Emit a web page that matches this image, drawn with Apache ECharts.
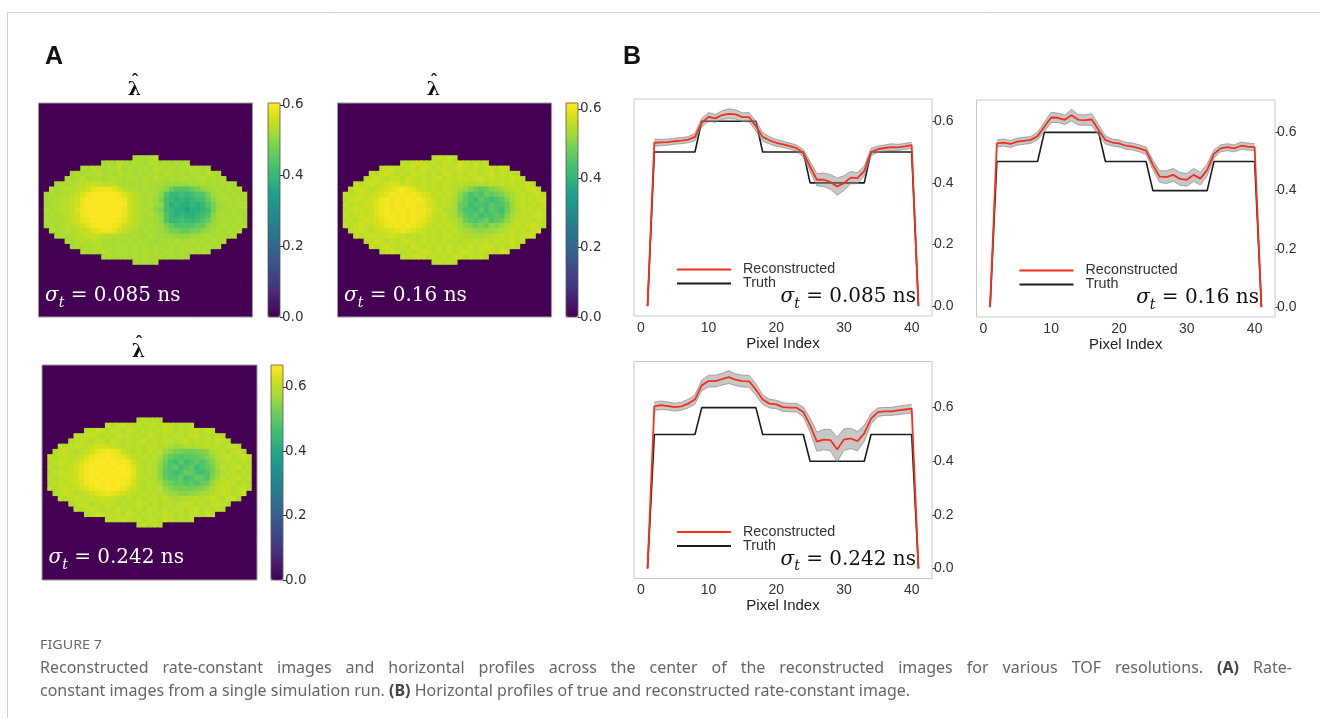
<!DOCTYPE html>
<html>
<head>
<meta charset="utf-8">
<script src="https://cdn.jsdelivr.net/npm/echarts@6/dist/echarts.min.js"></script>
<style>
  html, body { margin: 0; padding: 0; background: #ffffff; }
  #fig { width: 1320px; height: 718px; }
</style>
</head>
<body>
<div id="fig"></div>
<script>
// ---------- rate-constant images (A) ----------
// Each image is 41 x 41 pixels; the phantom occupies rows 10..30.
// A row string lists the pixels inside the phantom, centred on column 20;
// every other pixel is 0. Letters are value levels.
const LEVEL_KEYS = 'abcdefghijklmnopqrstuvwxy';
const LEVEL_VALUES = [0.36, 0.38, 0.40, 0.42, 0.44, 0.46, 0.48, 0.50,
  0.51, 0.52, 0.53, 0.54, 0.55, 0.56, 0.57, 0.58, 0.59, 0.60, 0.61,
  0.62, 0.63, 0.64, 0.65, 0.66, 0.667];
const IMG_SIZE = 41;
const FIRST_ROW = 10;

const IMG_085 = [
  'jkjkl',
  'jkjlkjkkjlkjkjkjk',
  'kjlkjkkljkjkkjlkjkjkklkjk',
  'jkjkkljkjlkkjkjkkjlkjkjkkjlkj',
  'kjkljkkjklkjkkjkjlkjkjkkjkljkjk',
  'jkjkl' + 'lmmml' + 'llkkj' + 'kjkkj' + 'jiiii' + 'ijjkj' + 'kjkkj',
  'kjklk' + 'lmnpq' + 'qqpnl' + 'kkjkj' + 'jihfe' + 'eefgh' + 'ijkjk' + 'jk',
  'jkjkk' + 'lmoqr' + 'rrrrq' + 'omlkj' + 'kjhec' + 'cdcde' + 'egijk' + 'jkjk',
  'kjkll' + 'mnqrr' + 'rrrrr' + 'qnlkj' + 'jigdc' + 'bcbcd' + 'dfhjk' + 'kjkj',
  'jkkll' + 'mnqrr' + 'rrrrr' + 'rnlkj' + 'kihdb' + 'cbbcb' + 'cegij' + 'kjkk',
  'kjkll' + 'mpqrr' + 'rrrrr' + 'qnlkk' + 'jhgdc' + 'bbabb' + 'cdgij' + 'jkjk',
  'jkjkl' + 'mnqrr' + 'rrrrr' + 'qnlkj' + 'kihec' + 'bcbbc' + 'dehjk' + 'jkkj',
  'kjkkl' + 'mnpqr' + 'rrrrq' + 'pmlkj' + 'jihec' + 'cdccd' + 'efhjk' + 'kjkj',
  'jkjkl' + 'lmnpq' + 'rrrqp' + 'nmlkj' + 'kjigf' + 'eeeef' + 'fhijk' + 'jkjk',
  'kjklk' + 'lmmop' + 'qqpnm' + 'lkjkj' + 'jihgg' + 'ffggh' + 'ijkjk' + 'jk',
  'jkjkl' + 'lmmml' + 'lkkkj' + 'kjjkj' + 'jiihh' + 'hiijk' + 'jkkjk',
  'kjklk' + 'llkkj' + 'kjkjk' + 'jjijj' + 'jkjkk' + 'jkjkj' + 'k',
  'jkjkk' + 'ljkjk' + 'kjkjk' + 'jkjjk' + 'jkkjk' + 'jkjk',
  'kjkjl' + 'kjkkj' + 'kjkjk' + 'jkkjk' + 'jkjkj',
  'jkjkkjkjkjkkjkjkj',
  'kjkjk'
];

const IMG_16 = [
  'mnmnm',
  'nmnonmnmnnmonmnmn',
  'mnonm' + 'nnmon' + 'mnnmn' + 'onmnm' + 'nnmon',
  'nmnon' + 'mnmon' + 'nmnmo' + 'nmnmn' + 'nmnom' + 'nmnm',
  'mnonm' + 'nnmon' + 'mnmno' + 'mnmnn' + 'mnomn' + 'mnmon' + 'm',
  'nmnon' + 'nopon' + 'onmnm' + 'nmnnm' + 'mlllm' + 'lmmnm' + 'nmnom',
  'mnonm' + 'nopqr' + 'srqon' + 'mnmnm' + 'mkjhg' + 'fghij' + 'lmnmn' + 'om',
  'nmnon' + 'nopqs' + 'rsrsr' + 'pomnm' + 'nlige' + 'fegfg' + 'hjlmn' + 'mnom',
  'mnonn' + 'oprsr' + 'srsrs' + 'rpnmn' + 'mkhfe' + 'dfede' + 'fhkmn' + 'nmno',
  'nmnno' + 'oqrsr' + 'srssr' + 'rpomn' + 'mkgfd' + 'eedfe' + 'egjmn' + 'mnmn',
  'mnonn' + 'oqrsr' + 'ssrsr' + 'rqonm' + 'lkgee' + 'dfdfe' + 'dgjln' + 'nmnm',
  'nmnon' + 'oprss' + 'rsrsr' + 'rpnmn' + 'mkhfe' + 'fdeef' + 'ehkmn' + 'mnon',
  'mnmno' + 'opqrs' + 'rsrsr' + 'qonmn' + 'mljgf' + 'efgef' + 'gilmn' + 'nmnm',
  'nmnon' + 'noprr' + 'srsrq' + 'pnmnm' + 'nmkih' + 'ghgih' + 'jlmnm' + 'nonm',
  'mnonm' + 'noopq' + 'rqpon' + 'mnmnm' + 'nlkjj' + 'ijjkl' + 'mnmnm' + 'no',
  'nmnon' + 'noonn' + 'mnmnm' + 'nmnnm' + 'mllkl' + 'lmmnm' + 'nmnon',
  'mnonm' + 'nmnon' + 'mnmnm' + 'nmmlm' + 'mnmnm' + 'nmnom' + 'n',
  'nmnon' + 'mnmon' + 'mnmnm' + 'nmnmn' + 'mnonm' + 'nmnm',
  'mnonm' + 'nmnon' + 'mnmnm' + 'nonmn' + 'mnmon',
  'nmnonmnmnmonmnmnm',
  'mnmnm'
];

const IMG_242 = [
  'qrqrq',
  'rqrsrqrqrrqsrqrqr',
  'qrsrq' + 'rrqsr' + 'qrrqr' + 'srqrq' + 'rrqsr',
  'rqrsr' + 'qrqsr' + 'rqrqs' + 'rqrqr' + 'rqrsq' + 'rqrq',
  'qrsrq' + 'rrqsr' + 'qrqrs' + 'qrqrr' + 'qrsqr' + 'qrqsr' + 'q',
  'rqrsr' + 'rstts' + 'srqrq' + 'rqrrq' + 'qpooq' + 'pqqrq' + 'rqrsq',
  'qrsrq' + 'rstvw' + 'xwvsr' + 'qrqrq' + 'rnmkk' + 'jjklm' + 'pqrqr' + 'sq',
  'rqrsr' + 'rsuwx' + 'xyxwv' + 'trqrq' + 'rplih' + 'ghhij' + 'lnqrs' + 'qrsr',
  'qrsrr' + 'suwxy' + 'yxyxx' + 'wtrqr' + 'qnjgf' + 'hfghg' + 'iloqr' + 'rqrq',
  'rqrrs' + 'tvxyx' + 'yyxyy' + 'xurqr' + 'pmigh' + 'fghfg' + 'hkorq' + 'rsqr',
  'qrsrs' + 'tvxyy' + 'xyyxy' + 'xvrqr' + 'qmhgf' + 'gihgf' + 'gknqr' + 'rqrq',
  'rqrss' + 'tvxyx' + 'yxyyx' + 'xurrq' + 'qnigg' + 'hfgih' + 'glorq' + 'rsqr',
  'qrsrs' + 'tuwxy' + 'xyxyx' + 'wtrqr' + 'qoljh' + 'ighgi' + 'jnqrs' + 'rqrq',
  'rqrsr' + 'stuwx' + 'xyxxw' + 'usrqr' + 'qrnlk' + 'jkjkl' + 'nprsr' + 'qrsq',
  'qrsrq' + 'rstuv' + 'wvuts' + 'rqrqr' + 'qpnnm' + 'mnnop' + 'qrsrq' + 'rs',
  'rqrsr' + 'rssts' + 'srqrq' + 'rqrrq' + 'rqppq' + 'qrqrs' + 'rqrsq',
  'qrsrq' + 'rrsrq' + 'rqrsr' + 'qrqqr' + 'qrsrq' + 'rqrsr' + 'q',
  'rqrsr' + 'qrqsr' + 'rqrqs' + 'rqrqr' + 'rqrsq' + 'rqrq',
  'qrsrq' + 'rrqsr' + 'qrrqr' + 'srqrq' + 'rrqsr',
  'rqrsrqrqrrqsrqrqr',
  'qrqrq'
];

const IMAGE_ROWS = [IMG_085, IMG_16, IMG_242];
const IMAGE_LABELS = ['0.085', '0.16', '0.242'];
const COLORBAR_MAX = [0.605, 0.617, 0.668];
const COLORBAR_TICKS = [0, 0.2, 0.4, 0.6];

// ---------- horizontal profiles (B) ----------
const PIXEL_INDEX = [1, 2, 3, 4, 5, 6, 7, 8, 9, 10, 11, 12, 13, 14, 15, 16, 17, 18, 19, 20,
  21, 22, 23, 24, 25, 26, 27, 28, 29, 30, 31, 32, 33, 34, 35, 36, 37, 38, 39, 40, 41];
const PROFILE_TICKS_X = [0, 10, 20, 30, 40];
const PROFILE_TICKS_Y = [0, 0.2, 0.4, 0.6];

const TRUTH = [0,
  0.5, 0.5, 0.5, 0.5, 0.5, 0.5, 0.5,
  0.6, 0.6, 0.6, 0.6, 0.6, 0.6, 0.6, 0.6, 0.6,
  0.5, 0.5, 0.5, 0.5, 0.5, 0.5, 0.5,
  0.4, 0.4, 0.4, 0.4, 0.4, 0.4, 0.4, 0.4, 0.4,
  0.5, 0.5, 0.5, 0.5, 0.5, 0.5, 0.5,
  0];

const RECON_085 = [0,
  0.530, 0.531, 0.532, 0.535, 0.537, 0.540, 0.549,
  0.595, 0.614, 0.609, 0.620, 0.624, 0.622, 0.613, 0.613, 0.584,
  0.549, 0.538, 0.530, 0.525, 0.519, 0.513, 0.496,
  0.453, 0.410, 0.410, 0.403, 0.388, 0.399, 0.417, 0.415, 0.439,
  0.500, 0.509, 0.513, 0.516, 0.515, 0.518, 0.522,
  0];
const RECON_16 = [0,
  0.562, 0.565, 0.560, 0.568, 0.571, 0.574, 0.587,
  0.619, 0.651, 0.650, 0.643, 0.659, 0.643, 0.642, 0.644, 0.608,
  0.574, 0.565, 0.562, 0.554, 0.551, 0.545, 0.537,
  0.488, 0.448, 0.446, 0.454, 0.440, 0.437, 0.454, 0.441, 0.471,
  0.526, 0.545, 0.549, 0.545, 0.554, 0.551, 0.549,
  0];
const RECON_242 = [0,
  0.605, 0.609, 0.606, 0.602, 0.605, 0.615, 0.630,
  0.683, 0.699, 0.699, 0.706, 0.714, 0.704, 0.699, 0.698, 0.667,
  0.630, 0.615, 0.612, 0.602, 0.600, 0.600, 0.584,
  0.535, 0.473, 0.481, 0.479, 0.444, 0.481, 0.485, 0.475, 0.504,
  0.559, 0.583, 0.586, 0.586, 0.590, 0.593, 0.596,
  0];

// half-width of the grey spread band, pixel index 2..40
const SPREAD_085 = [0.012, 0.010, 0.010, 0.010, 0.010, 0.010, 0.012,
  0.014, 0.014, 0.013, 0.014, 0.016, 0.015, 0.014, 0.015, 0.016,
  0.014, 0.012, 0.011, 0.010, 0.010, 0.010, 0.012,
  0.016, 0.020, 0.022, 0.024, 0.028, 0.024, 0.020, 0.018, 0.016,
  0.012, 0.010, 0.010, 0.011, 0.010, 0.010, 0.010];
const SPREAD_16 = [0.012, 0.012, 0.012, 0.012, 0.012, 0.012, 0.013,
  0.016, 0.018, 0.016, 0.016, 0.020, 0.018, 0.018, 0.020, 0.018,
  0.014, 0.012, 0.012, 0.012, 0.012, 0.012, 0.013,
  0.016, 0.020, 0.022, 0.022, 0.022, 0.022, 0.022, 0.022, 0.020,
  0.014, 0.012, 0.012, 0.012, 0.013, 0.012, 0.012];
const SPREAD_242 = [0.016, 0.016, 0.015, 0.015, 0.015, 0.016, 0.017,
  0.020, 0.022, 0.022, 0.022, 0.024, 0.022, 0.022, 0.022, 0.022,
  0.018, 0.016, 0.016, 0.016, 0.016, 0.016, 0.018,
  0.026, 0.036, 0.038, 0.040, 0.046, 0.040, 0.038, 0.036, 0.030,
  0.020, 0.016, 0.015, 0.015, 0.016, 0.016, 0.016];

const PROFILES = [
  { recon: RECON_085, spread: SPREAD_085, label: '0.085', yMin: -0.032, yMax: 0.672 },
  { recon: RECON_16, spread: SPREAD_16, label: '0.16', yMin: -0.034, yMax: 0.711 },
  { recon: RECON_242, spread: SPREAD_242, label: '0.242', yMin: -0.037, yMax: 0.772 }
];

const CAPTION_TITLE = 'FIGURE 7';
const CAPTION_LINE_1 = 'Reconstructed rate-constant images and horizontal profiles across the center of the reconstructed images for various TOF resolutions. (A) Rate-';
const CAPTION_LINE_2 = 'constant images from a single simulation run. (B) Horizontal profiles of true and reconstructed rate-constant image.';

// ---------- layout ----------
const VIRIDIS = ['#440154', '#471365', '#482475', '#453781', '#414487', '#3b528b',
  '#355f8d', '#2f6c8e', '#2a788e', '#25848e', '#21918c', '#1e9b8a', '#22a884',
  '#35b779', '#44bf70', '#5ec962', '#7ad151', '#a0da39', '#bddf26', '#dfe318', '#fde725'];

const IMAGE_BOXES = [
  { left: 38.5, top: 103, size: 214 },
  { left: 337.5, top: 103, size: 214 },
  { left: 42, top: 365, size: 215 }
];
const COLORBAR_BOXES = [
  { left: 268, top: 103, width: 12, height: 214 },
  { left: 566, top: 103, width: 12, height: 214 },
  { left: 271, top: 365, width: 12, height: 215 }
];
const PLOT_BOXES = [
  { left: 634, top: 99, width: 298, height: 217 },
  { left: 976.5, top: 100, width: 298.5, height: 217 },
  { left: 634, top: 361.5, width: 298, height: 217 }
];

const SANS = 'Liberation Sans, Arial, sans-serif';
const MATH = 'DejaVu Serif, serif';
const CAPTION_FONT = 'Noto Sans, sans-serif';

function imageData(rows) {
  const out = [];
  for (let r = 0; r < IMG_SIZE; r++) {
    const s = rows[r - FIRST_ROW];
    const start = s ? 20 - Math.floor(s.length / 2) : 0;
    for (let c = 0; c < IMG_SIZE; c++) {
      let v = 0;
      if (s && c >= start && c < start + s.length) {
        v = LEVEL_VALUES[LEVEL_KEYS.indexOf(s[c - start])];
      }
      out.push([c, r, v]);
    }
  }
  return out;
}

// one image pixel; drawn slightly oversize so neighbouring pixels leave no seams
function renderPixel(params, api) {
  const p = api.coord([api.value(0), api.value(1)]);
  const s = api.size([1, 1]);
  const w = Math.abs(s[0]), h = Math.abs(s[1]);
  return { type: 'rect',
    shape: { x: p[0] - w / 2, y: p[1] - h / 2, width: w + 0.8, height: h + 0.8 },
    style: { fill: api.visual('color') } };
}

const CELLS = Array.from({ length: IMG_SIZE }, (_, i) => i);

const grid = [], xAxis = [], yAxis = [], series = [], visualMap = [], legend = [], graphic = [];

// images
IMAGE_BOXES.forEach((b, k) => {
  grid.push({ left: b.left, top: b.top, width: b.size, height: b.size, show: true,
    borderColor: '#9a9a9a', borderWidth: 1, backgroundColor: 'transparent', z: 10 });
  xAxis.push({ gridIndex: k, type: 'category', data: CELLS, show: false });
  yAxis.push({ gridIndex: k, type: 'category', data: CELLS, inverse: true, show: false });
  series.push({ type: 'custom', xAxisIndex: k, yAxisIndex: k, data: imageData(IMAGE_ROWS[k]),
    renderItem: renderPixel, clip: true, silent: true, progressive: 0,
    encode: { x: 0, y: 1 } });
});

// colorbars
COLORBAR_BOXES.forEach((b, k) => {
  const gi = 3 + k;
  grid.push({ left: b.left, top: b.top, width: b.width, height: b.height, show: true,
    borderColor: '#555', borderWidth: 0.8, backgroundColor: 'transparent', z: 10 });
  xAxis.push({ gridIndex: gi, type: 'value', show: false, min: 0, max: 1,
    axisLine: { onZero: false } });
  yAxis.push({ gridIndex: gi, type: 'value', position: 'right', min: 0, max: COLORBAR_MAX[k],
    axisLine: { show: false, onZero: false }, splitLine: { show: false },
    axisTick: { show: true, length: 3.5, customValues: COLORBAR_TICKS, lineStyle: { color: '#333', width: 1 } },
    axisLabel: { customValues: COLORBAR_TICKS, formatter: v => v.toFixed(1), color: '#333',
      fontSize: 13.5, fontFamily: 'DejaVu Sans, sans-serif', margin: 2 } });
  visualMap.push({ type: 'continuous', seriesIndex: k, dimension: 2, min: 0, max: COLORBAR_MAX[k],
    inRange: { color: VIRIDIS }, orient: 'vertical', left: b.left, top: b.top,
    itemWidth: b.width, itemHeight: b.height, padding: 0, calculable: false,
    hoverLink: false, text: null, show: true, z: 4 });
});

// profiles
PROFILES.forEach((p, k) => {
  const gi = 6 + k;
  const b = PLOT_BOXES[k];
  grid.push({ left: b.left, top: b.top, width: b.width, height: b.height, show: true,
    borderColor: '#c8c8c8', borderWidth: 1, backgroundColor: 'transparent', z: 10 });
  xAxis.push({ gridIndex: gi, type: 'value', min: -1, max: 43,
    axisLine: { show: false, onZero: false }, splitLine: { show: false },
    axisTick: { show: false },
    axisLabel: { customValues: PROFILE_TICKS_X, color: '#333', fontSize: 14, fontFamily: SANS, margin: 5 },
    name: 'Pixel Index', nameLocation: 'middle', nameGap: 19,
    nameTextStyle: { color: '#222', fontSize: 15, fontFamily: SANS } });
  yAxis.push({ gridIndex: gi, type: 'value', position: 'right', min: p.yMin, max: p.yMax,
    axisLine: { show: false, onZero: false }, splitLine: { show: false },
    axisTick: { show: true, length: 4, customValues: PROFILE_TICKS_Y, lineStyle: { color: '#444', width: 1 } },
    axisLabel: { customValues: PROFILE_TICKS_Y, formatter: v => v.toFixed(1), color: '#333',
      fontSize: 14, fontFamily: SANS, margin: 2 } });

  const bandIdx = PIXEL_INDEX.slice(1, 40);
  const lower = bandIdx.map((x, j) => [x, p.recon[x - 1] - p.spread[j]]);
  const upper = bandIdx.map((x, j) => [x, p.recon[x - 1] + p.spread[j]]);

  series.push({ name: 'Truth', type: 'line', xAxisIndex: gi, yAxisIndex: gi,
    data: PIXEL_INDEX.map((x, j) => [x, TRUTH[j]]), color: '#1c1c1c',
    lineStyle: { width: 1.6 }, symbol: 'none', z: 2 });
  // grey spread band between lower and upper
  series.push({ name: 'band' + k, type: 'custom', xAxisIndex: gi, yAxisIndex: gi, silent: true, z: 3,
    data: upper,
    renderItem: (params, api) => {
      if (params.dataIndex !== 0) return null;
      const pts = upper.map(d => api.coord(d)).concat(lower.slice().reverse().map(d => api.coord(d)));
      return { type: 'polygon', shape: { points: pts },
        style: { fill: '#8f8f8f', opacity: 0.5, stroke: null } };
    } });
  [lower, upper].forEach((edge, e) => {
    series.push({ name: 'edge' + k + e, type: 'line', xAxisIndex: gi, yAxisIndex: gi,
      data: edge, symbol: 'none', color: '#7a7a7a', silent: true,
      lineStyle: { width: 0.8, opacity: 0.75 }, z: 3 });
  });
  series.push({ name: 'Reconstructed', type: 'line', xAxisIndex: gi, yAxisIndex: gi,
    data: PIXEL_INDEX.map((x, j) => [x, p.recon[j]]), color: '#f4301c',
    lineStyle: { width: 1.8 }, symbol: 'none', z: 4 });

  legend.push({ data: [{ name: 'Reconstructed', icon: 'rect' }, { name: 'Truth', icon: 'rect' }],
    orient: 'vertical', left: b.left + 43, top: b.top + 163.5, itemWidth: 54, itemHeight: 2,
    itemGap: 0, padding: 0, selectedMode: false,
    textStyle: { color: '#333', fontSize: 14.3, fontFamily: SANS, lineHeight: 13, padding: [0, 0, 0, 7] } });
});

// sigma annotations: rich text with subscript t
function sigmaText(value, x, y, align, color) {
  return {
    type: 'text', x, y, z: 20, silent: true,
    style: {
      text: '{s|σ}{t|t}{e| = ' + value + ' ns}',
      align, verticalAlign: 'middle', fill: color,
      rich: {
        s: { fontFamily: MATH, fontSize: 20, fontStyle: 'italic', fill: color, lineHeight: 28, verticalAlign: 'middle' },
        t: { fontFamily: MATH, fontSize: 14, fontStyle: 'italic', fill: color, lineHeight: 28, verticalAlign: 'bottom' },
        e: { fontFamily: MATH, fontSize: 20, fill: color, lineHeight: 28, verticalAlign: 'middle' }
      }
    }
  };
}

IMAGE_BOXES.forEach((b, k) => {
  const cx = b.left + b.size / 2 - 11;
  graphic.push(sigmaText(IMAGE_LABELS[k], b.left + 6.5, b.top + 193, 'left', '#ffffff'));
  graphic.push({ type: 'text', x: cx, y: b.top - 13, z: 20, silent: true,
    style: { text: 'λ', fontFamily: MATH, fontWeight: 'bold', fontSize: 19, fill: '#111',
      align: 'center', verticalAlign: 'middle' } });
  graphic.push({ type: 'text', x: cx + 0.5, y: b.top - 21, z: 20, silent: true,
    style: { text: 'ˆ', fontFamily: MATH, fontWeight: 'bold', fontSize: 17, fill: '#111',
      align: 'center', verticalAlign: 'middle' } });
});
PLOT_BOXES.forEach((b, k) => {
  graphic.push(sigmaText(PROFILES[k].label, b.left + b.width - 16, b.top + 198, 'right', '#111'));
});

// caption: first line is justified (wider word gaps), the last line is not
function captionRich(line, gap) {
  return line.split(' ').map(w => (w === '(A)' || w === '(B)') ? '{b|' + w + '}' : w)
    .join(gap ? '{w| }' : ' ');
}
const captionStyle = (text, gap) => ({
  text, fontFamily: CAPTION_FONT, fontSize: 16, fill: '#666', verticalAlign: 'middle',
  rich: {
    b: { fontFamily: CAPTION_FONT, fontSize: 16, fontWeight: 'bold', fill: '#444' },
    w: { fontFamily: CAPTION_FONT, fontSize: 16, width: gap || 4 }
  }
});

graphic.push(
  { type: 'line', shape: { x1: 7, y1: 12.5, x2: 1320, y2: 12.5 }, style: { stroke: '#d2d2d2', lineWidth: 1 }, silent: true },
  { type: 'line', shape: { x1: 7.5, y1: 12, x2: 7.5, y2: 718 }, style: { stroke: '#d2d2d2', lineWidth: 1 }, silent: true },
  { type: 'text', x: 45, y: 57, silent: true,
    style: { text: 'A', fontFamily: SANS, fontWeight: 'bold', fontSize: 25, fill: '#111', verticalAlign: 'middle' } },
  { type: 'text', x: 623, y: 57, silent: true,
    style: { text: 'B', fontFamily: SANS, fontWeight: 'bold', fontSize: 25, fill: '#111', verticalAlign: 'middle' } },
  { type: 'text', x: 40, y: 645, silent: true, scaleX: 1.1,
    style: { text: CAPTION_TITLE, fontFamily: CAPTION_FONT, fontSize: 13, fill: '#666', verticalAlign: 'middle' } },
  { type: 'text', x: 40, y: 668, silent: true, style: captionStyle(captionRich(CAPTION_LINE_1, 14), 14) },
  { type: 'text', x: 40, y: 691, silent: true, style: captionStyle(captionRich(CAPTION_LINE_2, 0), 0) }
);

const chart = echarts.init(document.getElementById('fig'), null, { renderer: 'canvas' });
chart.setOption({
  backgroundColor: '#ffffff',
  animation: false,
  grid, xAxis, yAxis, series, visualMap, legend, graphic
});
</script>
</body>
</html>
